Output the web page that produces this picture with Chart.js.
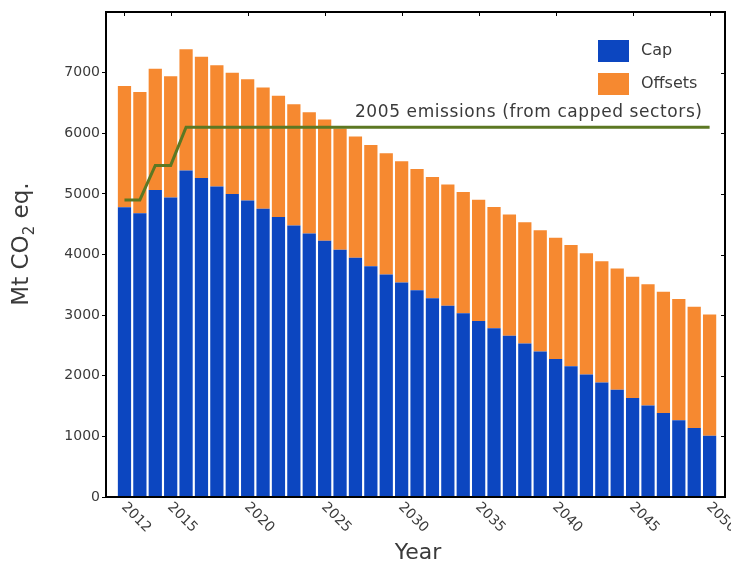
<!DOCTYPE html>
<html>
<head>
<meta charset="utf-8">
<script src="https://cdn.jsdelivr.net/npm/chart.js@4.4.1/dist/chart.umd.min.js"></script>
<style>
html, body { margin: 0; padding: 0; background: #fff; }
</style>
</head>
<body>
<canvas id="myChart" width="731" height="566"></canvas>
<script>
const years = [2012, 2013, 2014, 2015, 2016, 2017, 2018, 2019, 2020,
    2021, 2022, 2023, 2024, 2025, 2026, 2027, 2028, 2029, 2030,
    2031, 2032, 2033, 2034, 2035, 2036, 2037, 2038, 2039, 2040,
    2041, 2042, 2043, 2044, 2045, 2046, 2047, 2048, 2049, 2050]
const capValues = [4780, 4680, 5065, 4940, 5385, 5260, 5120, 5000, 4890,
    4755, 4620, 4480, 4345, 4225, 4080, 3945, 3805, 3670, 3540,
    3410, 3280, 3155, 3030, 2905, 2785, 2660, 2530, 2400, 2275,
    2155, 2020, 1890, 1770, 1635, 1510, 1385, 1265, 1140, 1010]
const offsetValues = [2000, 2000, 2000, 2000, 2000, 2000, 2000, 2000, 2000,
    2000, 2000, 2000, 2000, 2000, 2000, 2000, 2000, 2000, 2000,
    2000, 2000, 2000, 2000, 2000, 2000, 2000, 2000, 2000, 2000,
    2000, 2000, 2000, 2000, 2000, 2000, 2000, 2000, 2000, 2000]
const emissions2005 = [4900, 4900, 5470, 5470, 6100, 6100, 6100, 6100, 6100,
    6100, 6100, 6100, 6100, 6100, 6100, 6100, 6100, 6100, 6100,
    6100, 6100, 6100, 6100, 6100, 6100, 6100, 6100, 6100, 6100,
    6100, 6100, 6100, 6100, 6100, 6100, 6100, 6100, 6100, 6100]
const yearTicks = [2012, 2015, 2020, 2025, 2030, 2035, 2040, 2045, 2050]
const yTicks = [0, 1000, 2000, 3000, 4000, 5000, 6000, 7000]

const capColor = 'rgb(12, 70, 192)'
const offsetColor = 'rgb(246, 137, 48)'
const lineColor = 'rgb(92, 120, 35)'
const textColor = '#3a3a3a'
const font = '"DejaVu Sans", sans-serif'

const pts = (vals) => years.map((yr, i) => ({x: yr, y: vals[i]}))

// frame, inner ticks, rotated year labels, titles, note and legend
const decor = {
    id: 'decor',
    afterDraw(chart) {
        const {ctx, chartArea: a, scales: {x, y}} = chart
        ctx.save()
        ctx.strokeStyle = '#000'
        ctx.lineWidth = 2
        ctx.strokeRect(a.left, a.top, a.right - a.left, a.bottom - a.top)
        ctx.lineWidth = 1
        ctx.beginPath()
        for (const v of yearTicks) {
            const px = Math.round(x.getPixelForValue(v)) + 0.5
            ctx.moveTo(px, a.top); ctx.lineTo(px, a.top + 4)
        }
        for (const v of yTicks) {
            const py = Math.round(y.getPixelForValue(v)) + 0.5
            ctx.moveTo(a.right - 4, py); ctx.lineTo(a.right, py)
        }
        ctx.stroke()

        ctx.fillStyle = textColor
        ctx.font = '14px ' + font
        ctx.textAlign = 'left'
        ctx.textBaseline = 'middle'
        for (const v of yearTicks) {
            const px = x.getPixelForValue(v)
            ctx.save()
            ctx.translate(px - 1, a.bottom + 8)
            ctx.rotate(Math.PI / 4)
            ctx.fillText(String(v), 0, 0)
            ctx.restore()
        }

        // x title
        ctx.font = '22px ' + font
        ctx.textAlign = 'center'
        ctx.fillText('Year', 418, 553)

        // y title with subscript
        ctx.save()
        ctx.translate(28, 244)
        ctx.rotate(-Math.PI / 2)
        ctx.textBaseline = 'alphabetic'
        ctx.textAlign = 'left'
        const big = '23px ' + font, small = '15px ' + font
        ctx.font = big
        const w1 = ctx.measureText('Mt CO').width
        const w3 = ctx.measureText(' eq.').width
        ctx.font = small
        const w2 = ctx.measureText('2').width
        let sx = -(w1 + w2 + w3) / 2
        ctx.font = big
        ctx.fillText('Mt CO', sx, 0)
        ctx.font = small
        ctx.fillText('2', sx + w1, 6)
        ctx.font = big
        ctx.fillText(' eq.', sx + w1 + w2, 0)
        ctx.restore()

        // note above the 2005 line
        ctx.font = '17px ' + font
        ctx.letterSpacing = '0.6px'
        ctx.textAlign = 'right'
        ctx.textBaseline = 'middle'
        ctx.fillText('2005 emissions (from capped sectors)', x.getPixelForValue(2050) - 7, y.getPixelForValue(6100) - 15)
        ctx.letterSpacing = '0px'

        // legend
        const items = chart.data.datasets.filter(d => d.type !== 'line')
        ctx.font = '16px ' + font
        ctx.textAlign = 'left'
        items.forEach((d, i) => {
            const top = 40 + i * 33
            ctx.fillStyle = d.backgroundColor
            ctx.fillRect(598, top, 31, 22)
            ctx.fillStyle = textColor
            ctx.fillText(d.label, 641, top + 11)
        })
        ctx.restore()
    }
}

const ctx = document.getElementById('myChart')

theChart = new Chart(ctx, {
    data: {
        datasets: [{
            type: 'line',
            label: '2005 emissions (from capped sectors)',
            data: pts(emissions2005),
            borderColor: lineColor,
            borderWidth: 3,
            pointRadius: 0,
            tension: 0,
            stack: 'ref',
            order: 0
        },
        {
            type: 'bar',
            label: 'Cap',
            data: pts(capValues),
            backgroundColor: capColor,
            categoryPercentage: 1,
            barPercentage: 0.86,
            stack: 'bars',
            order: 1
        },
        {
            type: 'bar',
            label: 'Offsets',
            data: pts(offsetValues),
            backgroundColor: offsetColor,
            categoryPercentage: 1,
            barPercentage: 0.86,
            stack: 'bars',
            order: 1
        }]
    },
    options: {
        responsive: false,
        animation: false,
        layout: { padding: { left: 0, top: 12, right: 6, bottom: 0 } },
        plugins: {
            legend: { display: false },
            tooltip: { enabled: false }
        },
        scales: {
            x: {
                type: 'linear',
                min: 2010.8,
                max: 2051,
                offset: false,
                stacked: true,
                grid: { display: false },
                border: { display: false },
                ticks: { display: false },
                afterFit: (s) => { s.height = 69 }
            },
            y: {
                min: 0,
                max: 8000,
                stacked: true,
                afterBuildTicks: (s) => { s.ticks = yTicks.map(v => ({value: v})) },
                afterFit: (s) => { s.width = 106 },
                grid: { drawOnChartArea: false, tickLength: 4, color: '#000' },
                border: { display: false },
                ticks: {
                    padding: 2,
                    color: textColor,
                    font: { family: 'DejaVu Sans', size: 14 },
                    callback: (v) => String(v)
                }
            }
        }
    },
    plugins: [decor]
})
</script>
</body>
</html>
